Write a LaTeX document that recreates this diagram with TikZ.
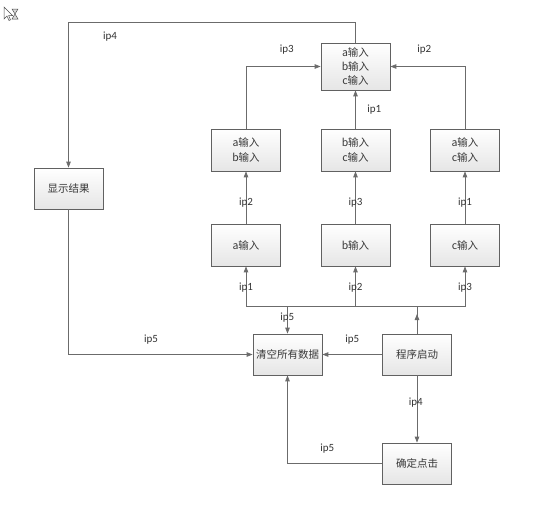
\documentclass[tikz,border=0pt]{standalone}
\usepackage{fontspec}
\setmainfont{Carlito}
\newfontfamily\cjk{Noto Sans CJK SC}
\usetikzlibrary{arrows.meta,calc}
\tikzset{
  box/.style={draw=black!62, line width=0.7pt, top color=white, bottom color=black!10,
    minimum width=69pt, minimum height=41pt, inner sep=0pt, align=center,
    font=\cjk\fontsize{10.5}{14.3}\selectfont, text=black!78},
  conn/.style={draw=black!58, line width=0.8pt},
  arr/.style={conn, -{Triangle[length=6pt,width=4.5pt]}},
  lbl/.style={font=\fontsize{11}{12}\selectfont, text=black!80, inner sep=0pt}
}
\begin{document}
\begin{tikzpicture}[x=1pt,y=-1pt]
\useasboundingbox (0,0) rectangle (554,504);
% cursor icon
\draw[black!70, line width=0.5pt, fill=white] (4,7) -- (4,19) -- (7,16) -- (9,20.5) -- (10.5,19.8) -- (8.6,15.5) -- (12.5,15.5) -- cycle;
\draw[black!70, line width=0.5pt, fill=black!15] (12,9) -- (18,9) -- (15,14) -- (18,19) -- (12,19) -- (15,14) -- cycle;

% boxes
\node[box] (show) at (68.5,188.5) {显示结果};
\node[box, minimum height=47pt] (abc) at (355.5,66.5) {a输入\\b输入\\c输入};
\node[box, minimum height=42pt] (ab) at (246,150) {a输入\\b输入};
\node[box, minimum height=42pt] (bc) at (355.5,150) {b输入\\c输入};
\node[box, minimum height=42pt] (ac) at (465,150) {a输入\\c输入};
\node[box, minimum height=42pt] (a) at (246,245) {a输入};
\node[box, minimum height=42pt] (b) at (355.5,245) {b输入};
\node[box, minimum height=42pt] (c) at (465,245) {c输入};
\node[box] (clr) at (287.5,354.5) {清空所有数据};
\node[box] (start) at (417,354.5) {程序启动};
\node[box] (ok) at (417,463.5) {确定点击};

% bus
\coordinate (busL) at (246,306.7);
\coordinate (busM) at (355.5,306.7);
\coordinate (busR) at (465,306.7);
\coordinate (busC) at (287.5,306.7);
\coordinate (busS) at (417,306.7);
\coordinate (busA) at (417,314);
\coordinate (topc) at (355.5,22.7);
\draw[conn] (busL) -- (busR);
\draw[arr] (busL) -- (a.south);
\draw[arr] (busM) -- (b.south);
\draw[arr] (busR) -- (c.south);
\draw[arr] (busC) -- (clr.north);
\draw[conn] (start.north) -- (busS);
\draw[arr] (start.north) -- (busA);

% upper connectors
\draw[arr] (a.north) -- (ab.south);
\draw[arr] (b.north) -- (bc.south);
\draw[arr] (c.north) -- (ac.south);
\draw[arr] (bc.north) -- (abc.south);
\draw[arr] (ab.north) |- (abc.west);
\draw[arr] (ac.north) |- (abc.east);
\draw[arr] (abc.north) -- (topc) -| (show.north);

% lower connectors
\draw[arr] (show.south) |- (clr.west);
\draw[arr] (start.west) -- (clr.east);
\draw[arr] (start.south) -- (ok.north);
\draw[arr] (ok.west) -| (clr.south);

% labels
\node[lbl] (l1) at (110,36.7) {ip4};
\node[lbl] (l2) at (286.7,49.3) {ip3};
\node[lbl] (l3) at (424.3,49.3) {ip2};
\node[lbl] (l4) at (374.3,109.3) {ip1};
\node[lbl] (l5) at (246,202.7) {ip2};
\node[lbl] (l6) at (355.5,202.7) {ip3};
\node[lbl] (l7) at (465,202.7) {ip1};
\node[lbl] (l8) at (246,287.3) {ip1};
\node[lbl] (l9) at (355.5,287.3) {ip2};
\node[lbl] (l10) at (465,287.3) {ip3};
\node[lbl] (l11) at (287.3,317.7) {ip5};
\node[lbl] (l12) at (151,340) {ip5};
\node[lbl] (l13) at (352.3,340) {ip5};
\node[lbl] (l14) at (415.7,402.3) {ip4};
\node[lbl] (l15) at (327.3,449) {ip5};
\end{tikzpicture}
\end{document}
